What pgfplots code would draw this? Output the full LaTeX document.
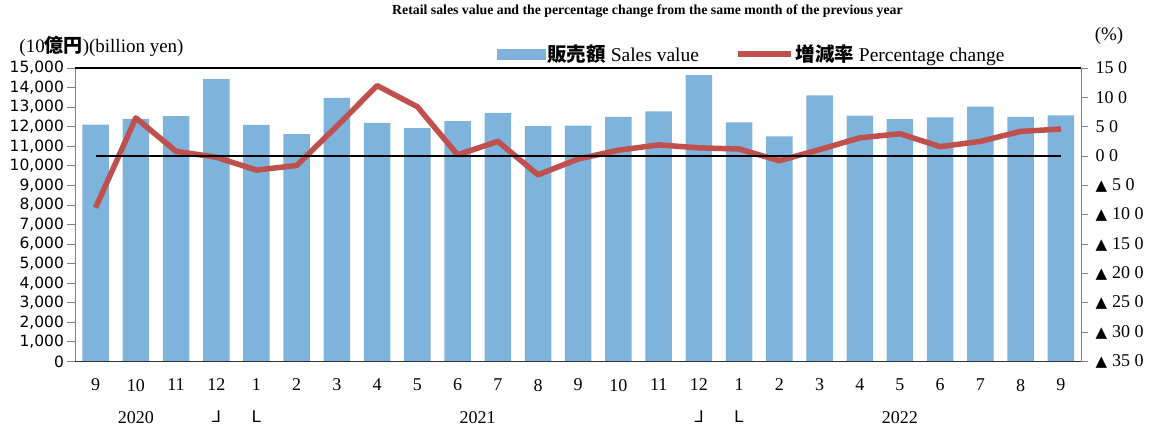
\documentclass[border=0pt]{standalone}
\usepackage{pgfplots}
\pgfplotsset{compat=1.18}
\usepackage{graphicx}
\usepackage{fontspec}
\setmainfont{Liberation Serif}
\newfontfamily\cjk{Noto Sans CJK JP}
\newfontfamily\dejavu{DejaVu Sans}
\newfontfamily\libsans{Liberation Sans}
\definecolor{barblue}{RGB}{126,180,220}
\definecolor{redline}{RGB}{192,80,77}
\definecolor{axgray}{RGB}{128,128,128}
\newcommand\tri{{\dejavu\fontsize{15}{15}\selectfont ▲}\hspace{5pt}}

\begin{document}
\begin{tikzpicture}
\useasboundingbox (0pt,0pt) rectangle (1163pt,430pt);
\node[font=\bfseries\fontsize{13.8}{14}\selectfont] at (647.5pt,419pt) {Retail sales value and the percentage change from the same month of the previous year};
\node[font=\fontsize{19}{20}\selectfont] at (101.5pt,384pt) {(10{\cjk\bfseries 億円})(billion yen)};
\node[font=\fontsize{19}{20}\selectfont] at (1109pt,394pt) {(\%)};

\begin{axis}[
 at={(75.5pt,68.5pt)}, anchor=south west, scale only axis, width=1005.5pt, height=293.5pt,
 xmin=-0.5, xmax=24.5, ymin=0, ymax=15000, clip=false,
 axis line style={axgray, line width=0.9pt},
 xtick={0,...,24},
 xticklabels={9,10,11,12,1,2,3,4,5,6,7,8,9,10,11,12,1,2,3,4,5,6,7,8,9},
 xtick style={draw=none},
 x tick label style={font=\fontsize{18}{18}\selectfont, yshift=-6pt},
 ytick={0,1000,...,15000}, ytick pos=left, tick align=outside, major tick length=8pt,
 y tick style={axgray, line width=0.9pt},
 scaled y ticks=false,
 y tick label style={font=\dejavu\fontsize{15.5}{16}\selectfont, /pgf/number format/1000 sep={,}, /pgf/number format/assume math mode=true},
]
\addplot[ybar, bar width=26.5pt, fill=barblue, draw=none] coordinates {
(0,12100) (1,12400) (2,12540) (3,14430) (4,12090) (5,11620) (6,13470) (7,12190)
(8,11930) (9,12290) (10,12710) (11,12030) (12,12050) (13,12500) (14,12780) (15,14640)
(16,12220) (17,11500) (18,13600) (19,12560) (20,12390) (21,12480) (22,13020) (23,12500) (24,12580)};
\draw[black, line width=1.2pt] (rel axis cs:0,1) -- (rel axis cs:1,1);
\draw[black!80, line width=1.2pt] (rel axis cs:0,0) -- (rel axis cs:1,0);
\node[font=\fontsize{18}{18}\selectfont, yshift=-56.5pt] at (axis cs:1,0) {2020};
\node[font=\fontsize{18}{18}\selectfont, yshift=-56.5pt] at (axis cs:9.5,0) {2021};
\node[font=\fontsize{18}{18}\selectfont, yshift=-56.5pt] at (axis cs:20,0) {2022};
\node[font=\libsans\fontsize{17}{17}\selectfont, yshift=-55pt] at (axis cs:3,0) {\reflectbox{L}};
\node[font=\libsans\fontsize{17}{17}\selectfont, yshift=-55pt] at (axis cs:4,0) {L};
\node[font=\libsans\fontsize{17}{17}\selectfont, yshift=-55pt] at (axis cs:15,0) {\reflectbox{L}};
\node[font=\libsans\fontsize{17}{17}\selectfont, yshift=-55pt] at (axis cs:16,0) {L};
\end{axis}

\begin{axis}[
 at={(75.5pt,68.5pt)}, anchor=south west, scale only axis, width=1005.5pt, height=293.5pt,
 xmin=-0.5, xmax=24.5, ymin=-35, ymax=15,
 axis x line=none, axis y line*=right,
 y axis line style={axgray, line width=0.9pt},
 ytick={-35,-30,...,15},
 yticklabels={\tri35 0,\tri30 0,\tri25 0,\tri20 0,\tri15 0,\tri10 0,\tri5 0,0 0,5 0,10 0,15 0},
 tick align=outside, major tick length=7pt,
 y tick style={axgray, line width=0.9pt},
 y tick label style={font=\fontsize{18}{18}\selectfont, xshift=4pt},
 legend style={at={(0.419,1.048)}, anchor=west, draw=none, fill=none, inner sep=0pt,
   font=\fontsize{19.5}{20}\selectfont, legend columns=2,
   /tikz/every even column/.append style={column sep=34pt}},
 legend cell align=left,
]
\addlegendimage{legend image code/.code={\fill[barblue] (0pt,-5pt) rectangle (48pt,5pt);}}
\addlegendentry{{\cjk\bfseries 販売額} Sales value}
\addlegendimage{legend image code/.code={\draw[redline, line width=5.5pt] (0pt,0pt) -- (53pt,0pt);}}
\addlegendentry{{\cjk\bfseries 増減率} Percentage change}
\addplot[redline, line width=5.5pt, line join=round, forget plot] coordinates {
(0,-8.8) (1,6.5) (2,0.8) (3,-0.2) (4,-2.4) (5,-1.6) (6,5.1) (7,12.0) (8,8.4) (9,0.2)
(10,2.5) (11,-3.2) (12,-0.5) (13,1.0) (14,1.9) (15,1.4) (16,1.2) (17,-0.8) (18,1.1)
(19,3.1) (20,3.8) (21,1.6) (22,2.5) (23,4.2) (24,4.6)};
\addplot[black, line width=1.1pt, forget plot] coordinates {(0,0) (24,0)};
\end{axis}
\end{tikzpicture}
\end{document}
